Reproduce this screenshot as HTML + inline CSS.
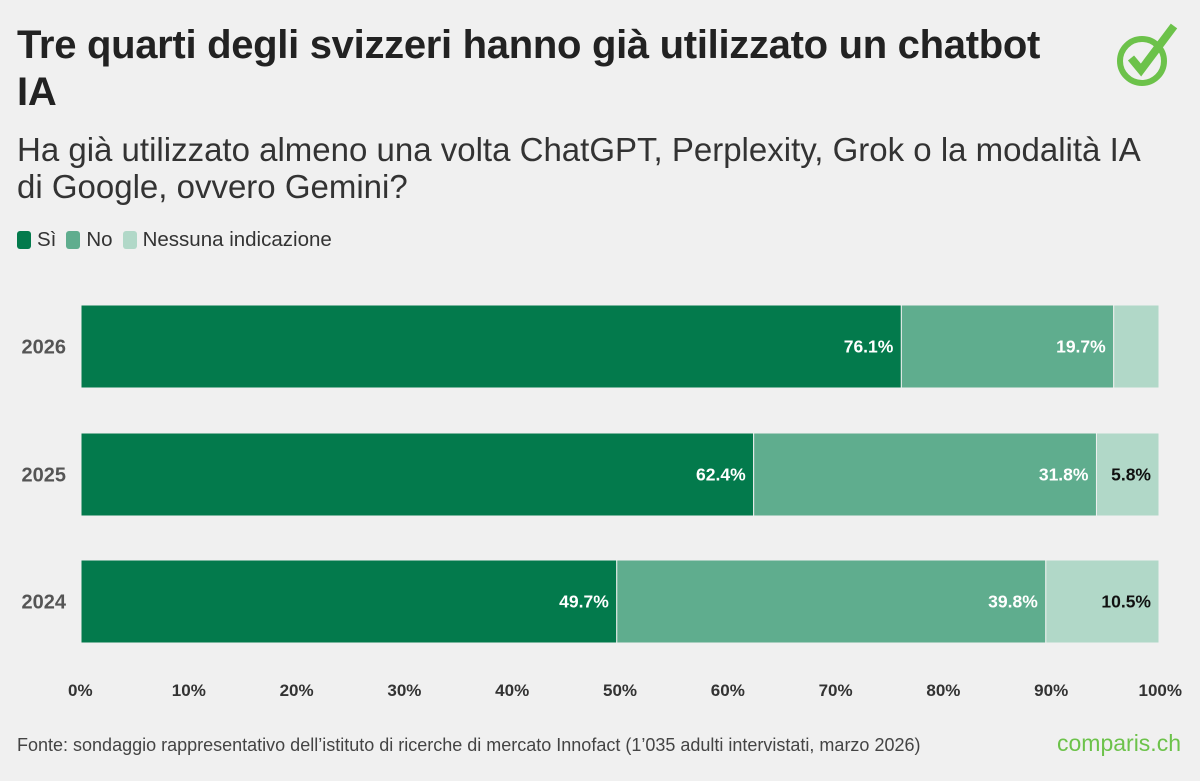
<!DOCTYPE html>
<html><head><meta charset="utf-8"><style>
body{margin:0;width:1200px;height:781px;background:#f0f0f0;font-family:"Liberation Sans",sans-serif;overflow:hidden;position:relative}
.t{position:absolute;left:17px;top:22px;font-size:40px;font-weight:bold;color:#222;line-height:47px;width:1070px;letter-spacing:-0.3px}
.s{position:absolute;left:17px;top:131px;font-size:33px;color:#333;line-height:37px;width:1145px}
.lg{position:absolute;left:17px;top:228px;font-size:20.5px;color:#333;display:flex;gap:10px}
.lg span{display:flex;align-items:center}
.lg i{display:inline-block;width:14px;height:18px;border-radius:3px;margin-right:6px}
.f{position:absolute;left:17px;top:735px;font-size:18px;color:#444}
.logo{position:absolute;left:1057px;top:730px;font-size:23px;color:#6cc24a}
</style></head><body>
<div class="t">Tre quarti degli svizzeri hanno già utilizzato un chatbot IA</div>
<div class="s">Ha già utilizzato almeno una volta ChatGPT, Perplexity, Grok o la modalità IA di Google, ovvero Gemini?</div>
<div class="lg">
<span><i style="background:#037a4c"></i>Sì</span>
<span><i style="background:#5fad8e"></i>No</span>
<span><i style="background:#b1d8c8"></i>Nessuna indicazione</span>
</div>
<svg style="position:absolute;left:1110px;top:18px" width="70" height="70" viewBox="0 0 70 70">
<circle cx="32" cy="43" r="22" fill="none" stroke="#6cc24a" stroke-width="6"/>
<path d="M21 40 L31 52 L64 8" fill="none" stroke="#6cc24a" stroke-width="8" stroke-linejoin="miter"/>
</svg>
<svg id="c" width="1200" height="781" style="position:absolute;left:0;top:0"></svg>
<div class="f">Fonte: sondaggio rappresentativo dell’istituto di ricerche di mercato Innofact (1’035 adulti intervistati, marzo 2026)</div>
<div class="logo">comparis.ch</div>
<script>
const years=["2026","2025","2024"];
const si=[76.1,62.4,49.7];
const no=[19.7,31.8,39.8];
const na=[4.2,5.8,10.5];
const ticks=[0,10,20,30,40,50,60,70,80,90,100];
const NS="http://www.w3.org/2000/svg",svg=document.getElementById('c');
const x=v=>81+v*10.78, yTop=[305,433,560], bh=83;
function mk(t,a){const e=document.createElementNS(NS,t);for(const k in a)e.setAttribute(k,a[k]);svg.appendChild(e);return e;}
const cols=["#037a4c","#5fad8e","#b1d8c8"],tc=["#fff","#fff","#111"],names=["si","no","nessuna"];
years.forEach((yr,i)=>{
 const yl=mk('text',{x:66,y:yTop[i]+bh/2+7,'text-anchor':'end','font-size':20,'font-weight':'bold',fill:'#555'});
 yl.textContent=yr;
 
 
 let acc=0;[si[i],no[i],na[i]].forEach((v,j)=>{
  const r=mk('rect',{x:x(acc),y:yTop[i],width:x(acc+v)-x(acc),height:bh,fill:cols[j],stroke:'#f0f0f0','stroke-width':1});
  
  
  acc+=v;
  if(v>5){const t=mk('text',{x:x(acc)-8,y:yTop[i]+bh/2+6,'text-anchor':'end','font-size':17.5,'font-weight':'bold',fill:tc[j]});
   t.textContent=v.toFixed(1)+'%';
   
   }
 });
});
ticks.forEach(v=>{const t=mk('text',{x:x(v),y:696,'text-anchor':v==100?'end':(v==0?'start':'middle'),'font-size':17,'font-weight':'bold',fill:'#333'});
 if(v==0)t.setAttribute('x',68);
 if(v==100)t.setAttribute('x',1182);
 t.textContent=v+'%';
 
 });
</script>
</body></html>
